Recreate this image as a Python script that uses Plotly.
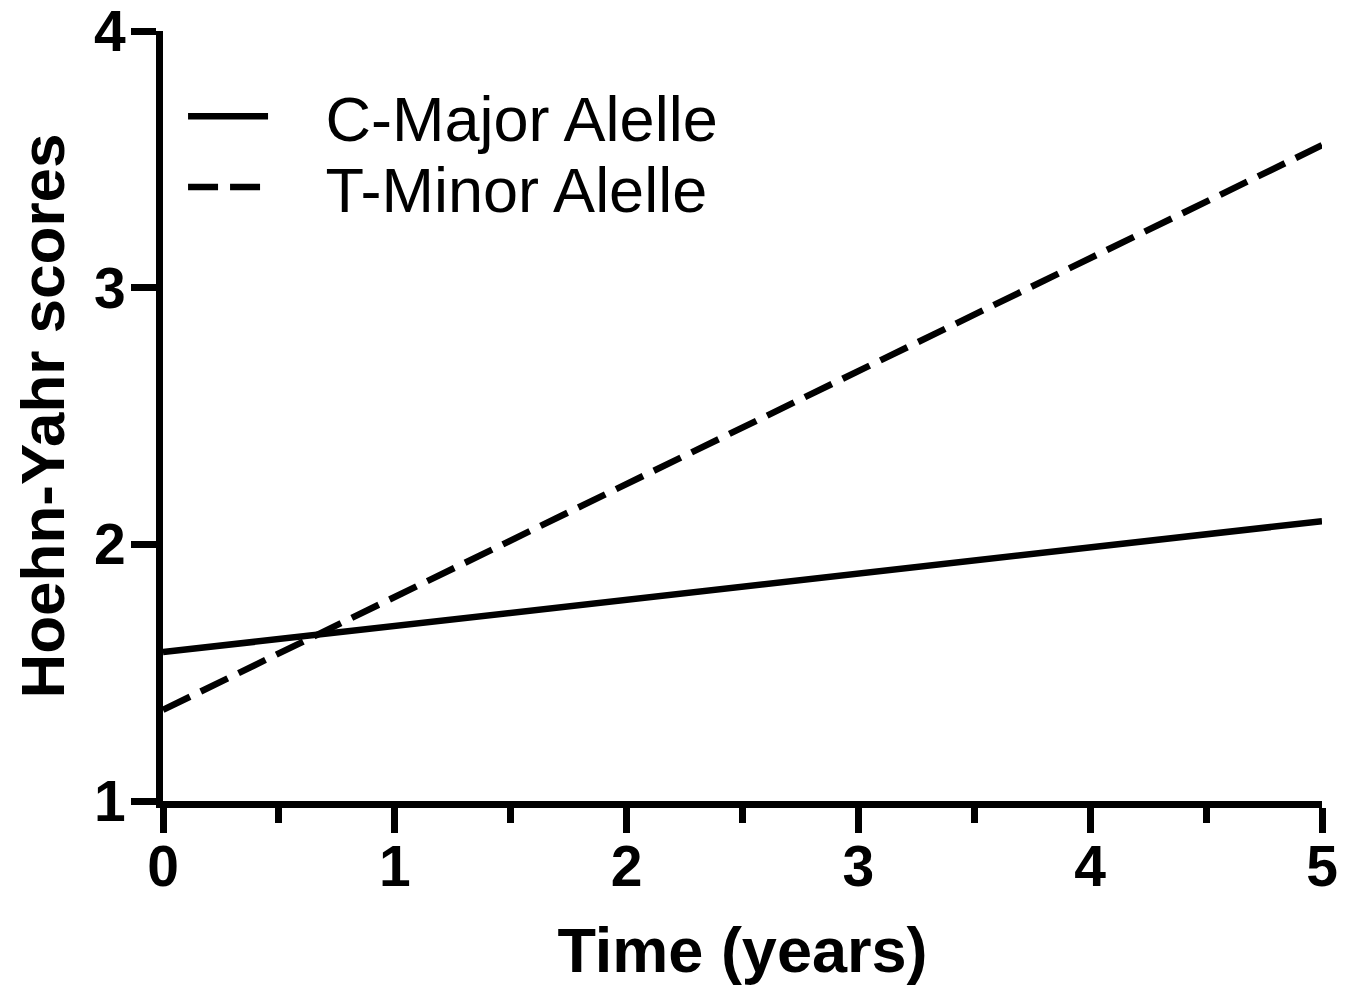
import plotly.graph_objects as go

# Data
time_years = [0, 5]
c_major = [1.58, 2.09]
t_minor = [1.355, 3.555]
series_names = ["C-Major Alelle", "T-Minor Alelle"]
x_ticks = [0, 1, 2, 3, 4, 5]
y_ticks = [1, 2, 3, 4]

FONT = "Liberation Sans, Arial, sans-serif"
PAD = "\u00a0\u00a0\u00a0"

fig = go.Figure()
fig.add_trace(go.Scatter(x=time_years, y=c_major, mode="lines", name=PAD + series_names[0],
                         line=dict(color="black", width=6.5), legend="legend"))
fig.add_trace(go.Scatter(x=time_years, y=t_minor, mode="lines", name=PAD + series_names[1],
                         line=dict(color="black", width=6.5, dash="30px,12px"), legend="legend2"))

axis_common = dict(showgrid=False, zeroline=False, showline=True, linecolor="black",
                   linewidth=7, ticks="outside", ticklen=25, tickwidth=7, tickcolor="black",
                   ticklabeloverflow="allow",
                   tickfont=dict(family=FONT, size=57, color="black", weight="bold"))

fig.update_xaxes(range=[0, 5], tickvals=x_ticks, ticklabelstandoff=-15,
                 title=dict(text="Time (years)", font=dict(family=FONT, size=63, color="black", weight="bold"), standoff=33),
                 minor=dict(ticks="outside", ticklen=15, tickwidth=7, tickcolor="black", dtick=0.5, tick0=0),
                 **axis_common)
fig.update_yaxes(range=[1, 4], tickvals=y_ticks, ticklabelstandoff=-6,
                 title=dict(text="Hoehn-Yahr scores", font=dict(family=FONT, size=62, color="black", weight="bold"), standoff=42),
                 **axis_common)

leg_common = dict(xanchor="left", yanchor="top", bgcolor="rgba(0,0,0,0)",
                  font=dict(family=FONT, size=63, color="black"), itemwidth=80)

fig.update_layout(
    width=1347, height=982,
    margin=dict(l=155, r=33, t=23, b=189, autoexpand=False),
    plot_bgcolor="white", paper_bgcolor="white",
    showlegend=True,
    legend=dict(x=0.0173, y=0.951, **leg_common),
    legend2=dict(x=0.0173, y=0.859, **leg_common),
)

fig.write_html("out.html")
